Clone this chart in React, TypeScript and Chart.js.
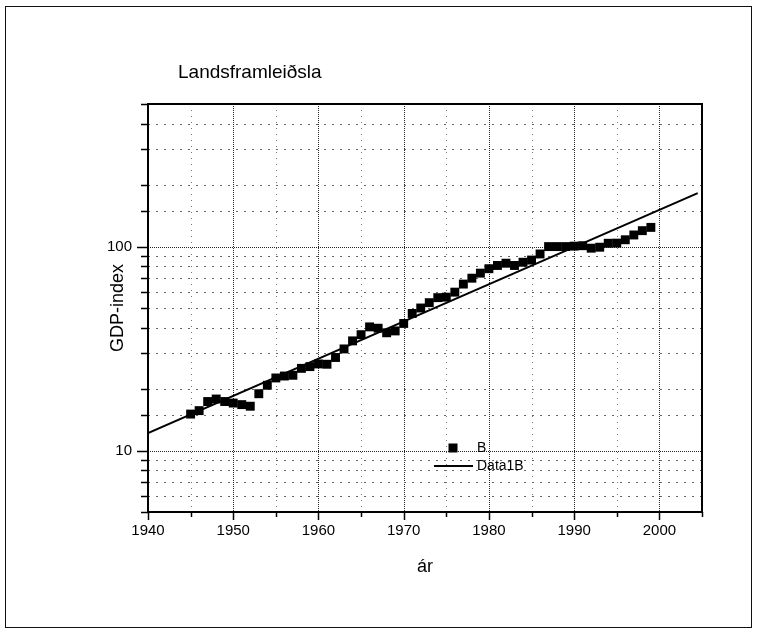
import React, { useEffect, useRef } from "react";
import { Chart, registerables } from "chart.js";

Chart.register(...registerables);

const years = [
  1945, 1946, 1947, 1948, 1949, 1950, 1951, 1952, 1953, 1954,
  1955, 1956, 1957, 1958, 1959, 1960, 1961, 1962, 1963, 1964,
  1965, 1966, 1967, 1968, 1969, 1970, 1971, 1972, 1973, 1974,
  1975, 1976, 1977, 1978, 1979, 1980, 1981, 1982, 1983, 1984,
  1985, 1986, 1987, 1988, 1989, 1990, 1991, 1992, 1993, 1994,
  1995, 1996, 1997, 1998, 1999,
];
const gdpIndex = [
  15.1, 15.7, 17.4, 17.9, 17.4, 17.1, 16.8, 16.5, 19.0, 20.9,
  22.7, 23.2, 23.4, 25.3, 25.8, 26.6, 26.5, 28.6, 31.5, 34.5,
  37.0, 40.4, 39.8, 37.8, 38.6, 42.0, 47.0, 50.0, 53.1, 56.2,
  56.5, 59.8, 65.5, 70.0, 74.1, 77.9, 80.8, 82.9, 80.8, 83.8,
  85.9, 92.0, 100, 100, 100, 100.5, 101, 98.2, 99.3, 103.8,
  104, 108, 114, 119.7, 124.2,
];
const fitYears = [1940, 2004.5];
const fitValues = [12.2, 183];
const xTickLabels = [1940, 1950, 1960, 1970, 1980, 1990, 2000];
const yTickLabels = [10, 100];
const chartTitle = "Landsframleiðsla";
const xAxisTitle = "ár";
const yAxisTitle = "GDP-index";
const legendLabels = ["B", "Data1B"];

const FONT = '"Liberation Sans", Arial, Helvetica, sans-serif';

export default function App() {
  const ref = useRef<HTMLCanvasElement>(null);

  useEffect(() => {
    document.body.style.margin = "0";
    const canvas = ref.current;
    if (!canvas) return;

    const isMajorY = (v: number) => Math.abs(Math.log10(v) - Math.round(Math.log10(v))) < 1e-6;

    const decor = {
      id: "decor",
      beforeDatasetsDraw(chart: any) {
        const { ctx, chartArea: a, scales } = chart;
        const xs = scales.x;
        const ys = scales.y;
        ctx.save();
        ctx.lineWidth = 1;
        xs.ticks.forEach((t: any) => {
          if (t.value <= xs.min || t.value >= xs.max) return;
          const px = Math.round(xs.getPixelForValue(t.value)) + 0.5;
          const major = t.value % 10 === 0;
          ctx.setLineDash(major ? [1, 1] : [1, 5]);
          ctx.strokeStyle = major ? "#222" : "#777";
          ctx.beginPath();
          ctx.moveTo(px, a.top);
          ctx.lineTo(px, a.bottom);
          ctx.stroke();
        });
        ys.ticks.forEach((t: any) => {
          if (t.value <= ys.min || t.value >= ys.max) return;
          const py = Math.round(ys.getPixelForValue(t.value)) + 0.5;
          const major = isMajorY(t.value);
          ctx.setLineDash(major ? [1, 1] : [2, 6]);
          ctx.strokeStyle = major ? "#222" : "#666";
          ctx.beginPath();
          ctx.moveTo(a.left, py);
          ctx.lineTo(a.right, py);
          ctx.stroke();
        });
        ctx.restore();
      },
      afterDraw(chart: any) {
        const { ctx, chartArea: a, scales } = chart;
        const xs = scales.x;
        const ys = scales.y;
        ctx.save();
        ctx.setLineDash([]);
        ctx.strokeStyle = "#000";
        // frame
        ctx.lineWidth = 2;
        ctx.strokeRect(a.left, a.top, a.right - a.left, a.bottom - a.top);
        // tick marks
        ctx.lineWidth = 1.5;
        xs.ticks.forEach((t: any) => {
          const px = Math.round(xs.getPixelForValue(t.value)) + 0.5;
          const len = t.value % 10 === 0 ? 8 : 5;
          ctx.beginPath();
          ctx.moveTo(px, a.bottom);
          ctx.lineTo(px, a.bottom + len);
          ctx.stroke();
        });
        ys.ticks.forEach((t: any) => {
          const py = Math.round(ys.getPixelForValue(t.value)) + 0.5;
          const len = isMajorY(t.value) ? 11 : 7;
          ctx.beginPath();
          ctx.moveTo(a.left, py);
          ctx.lineTo(a.left - len, py);
          ctx.stroke();
        });
        // legend
        ctx.fillStyle = "#000";
        ctx.font = `14px ${FONT}`;
        ctx.textBaseline = "middle";
        ctx.textAlign = "left";
        const lx = a.left + 305;
        const ly1 = a.top + 344;
        const ly2 = a.top + 362;
        ctx.fillRect(lx - 4.5, ly1 - 4.5, 9, 9);
        ctx.fillText(legendLabels[0], a.left + 329, ly1);
        ctx.lineWidth = 2;
        ctx.beginPath();
        ctx.moveTo(a.left + 286, ly2);
        ctx.lineTo(a.left + 325, ly2);
        ctx.stroke();
        ctx.fillText(legendLabels[1], a.left + 329, ly2);
        // titles
        ctx.font = `19px ${FONT}`;
        ctx.fillText(chartTitle, a.left + 30, 73);
        ctx.font = `18px ${FONT}`;
        ctx.textAlign = "center";
        ctx.fillText(xAxisTitle, (a.left + a.right) / 2, 567);
        ctx.translate(118, (a.top + a.bottom) / 2);
        ctx.rotate(-Math.PI / 2);
        ctx.fillText(yAxisTitle, 0, 0);
        ctx.restore();
      },
    };

    const chart = new Chart(canvas, {
      type: "scatter",
      data: {
        datasets: [
          {
            label: legendLabels[0],
            data: years.map((yr, i) => ({ x: yr, y: gdpIndex[i] })),
            showLine: false,
            pointStyle: "rect",
            pointRadius: 6.3,
            pointHoverRadius: 6.3,
            backgroundColor: "#000",
            borderColor: "#000",
            borderWidth: 0,
          },
          {
            label: legendLabels[1],
            data: fitYears.map((yr, i) => ({ x: yr, y: fitValues[i] })),
            showLine: true,
            pointRadius: 0,
            borderColor: "#000",
            borderWidth: 2,
            fill: false,
          },
        ],
      },
      options: {
        responsive: false,
        animation: false,
        devicePixelRatio: 1,
        layout: { padding: { top: 104, right: 58, left: 0, bottom: 0 } },
        plugins: {
          legend: { display: false },
          title: { display: false },
          tooltip: { enabled: false },
        },
        scales: {
          x: {
            type: "linear",
            min: 1940,
            max: 2005,
            afterFit: (s: any) => {
              s.height = 123;
            },
            grid: { display: false, drawTicks: false },
            border: { display: false },
            ticks: {
              stepSize: 5,
              autoSkip: false,
              maxRotation: 0,
              padding: 10,
              color: "#000",
              font: { family: FONT, size: 15 },
              callback: (v: any) => (xTickLabels.includes(Number(v)) ? String(v) : ""),
            },
          },
          y: {
            type: "logarithmic",
            min: 5,
            max: 500,
            afterFit: (s: any) => {
              s.width = 148;
            },
            grid: { display: false, drawTicks: false },
            border: { display: false },
            ticks: {
              autoSkip: false,
              padding: 16,
              color: "#000",
              font: { family: FONT, size: 15 },
              callback: (v: any) => (yTickLabels.includes(Number(v)) ? String(v) : ""),
            },
          },
        },
      },
      plugins: [decor],
    } as any);

    return () => chart.destroy();
  }, []);

  return (
    <div style={{ position: "relative", width: 760, height: 635 }}>
      <div
        style={{
          position: "absolute",
          left: 5,
          top: 6,
          width: 745,
          height: 620,
          border: "1.5px solid #111",
        }}
      />
      <canvas ref={ref} width={760} height={635} style={{ position: "absolute", left: 0, top: 0 }} />
    </div>
  );
}
